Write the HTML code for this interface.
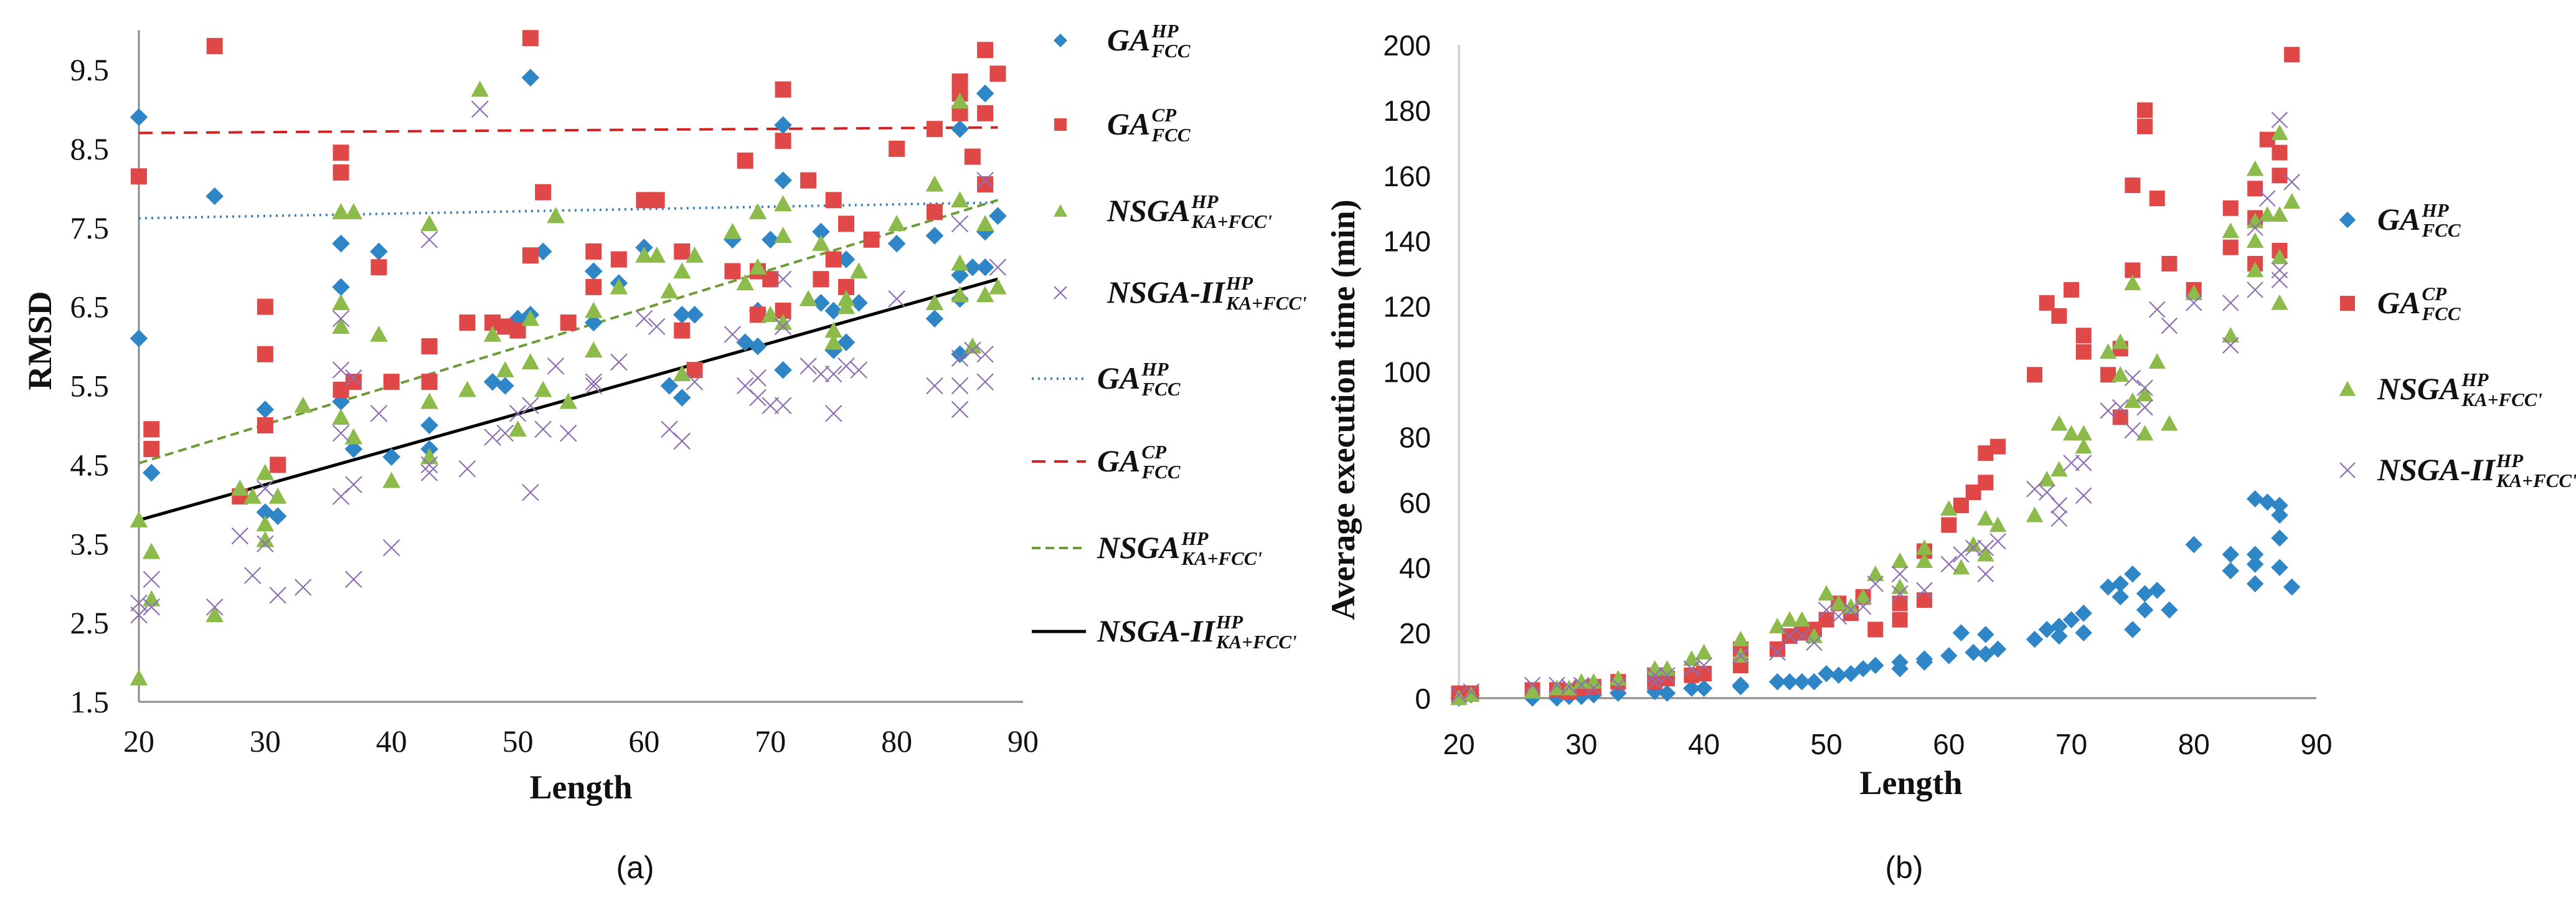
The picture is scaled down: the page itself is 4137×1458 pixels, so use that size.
<!DOCTYPE html>
<html><head><meta charset="utf-8">
<style>
html,body{margin:0;padding:0;background:#fff;}
svg{display:block;}
</style></head>
<body>
<svg id="fig" width="4137" height="1458" viewBox="0 0 4137 1458" xmlns="http://www.w3.org/2000/svg">
<rect width="4137" height="1458" fill="#fff"/>
<g id="pa"></g>
<g id="pb"></g>
</svg>
<script>
// ---------- Panel A data (RMSD) ----------
const aGaHpX=[20,20,21,26,30,30,31,36,36,36,37,39,40,43,43,48,49,50,51,51,52,56,56,58,60,62,63,63,64,67,68,69,69,70,71,71,71,74,74,75,75,76,76,77,80,83,83,85,85,85,85,86,87,87,87,88];
const aGaHpY=[8.9,6.1,4.4,7.9,5.2,3.9,3.85,7.3,6.75,5.3,4.7,7.2,4.6,5.0,4.7,5.55,5.5,6.35,6.4,9.4,7.2,6.95,6.3,6.8,7.25,5.5,5.35,6.4,6.4,7.35,6.05,6.0,6.45,7.35,8.8,8.1,5.7,7.45,6.55,6.45,5.95,7.1,6.05,6.55,7.3,7.4,6.35,8.75,6.9,6.6,5.9,7.0,9.2,7.45,7.0,7.65];
const aGaCpX=[20,21,21,26,30,30,30,31,28,36,36,36,37,39,40,43,43,46,48,49,50,51,51,52,54,56,56,58,60,61,63,63,64,67,68,69,69,70,71,71,71,73,74,75,75,76,76,78,80,83,83,85,85,85,86,87,87,87,88];
const aGaCpY=[8.15,4.95,4.7,9.8,6.5,5.9,5.0,4.5,4.1,8.45,8.2,5.45,5.55,7.0,5.55,6.0,5.55,6.3,6.3,6.25,6.2,9.9,7.15,7.95,6.3,7.2,6.75,7.1,7.85,7.85,7.2,6.2,5.7,6.95,8.35,6.95,6.4,6.85,9.25,8.6,6.45,8.1,6.85,7.85,7.1,7.55,6.75,7.35,8.5,8.75,7.7,9.35,9.2,8.95,8.4,9.75,8.95,8.05,9.45];
const aNsgaX=[20,20,21,21,26,28,29,30,30,30,31,33,36,36,36,36,37,37,39,40,43,43,43,46,47,48,49,50,51,51,52,53,54,56,56,58,60,61,62,63,63,64,67,68,69,69,70,71,71,71,73,74,75,75,76,76,77,80,83,83,85,85,85,85,86,87,87,88];
const aNsgaY=[1.8,3.8,3.4,2.8,2.6,4.2,4.1,4.4,3.75,3.55,4.1,5.25,7.7,6.55,6.25,5.1,7.7,4.85,6.15,4.3,7.55,5.3,4.6,5.45,9.25,6.15,5.7,4.95,5.8,6.35,5.45,7.65,5.3,6.45,5.95,6.75,7.15,7.15,6.7,6.95,5.65,7.15,7.45,6.8,7.7,7.0,6.4,7.8,7.4,6.3,6.6,7.3,6.2,6.05,6.6,6.5,6.95,7.55,8.05,6.55,9.1,7.85,7.05,6.65,6.0,7.55,6.65,6.75];
const aNsga2X=[20,20,21,21,26,28,29,30,30,31,33,36,36,36,36,37,37,37,39,40,43,43,43,46,47,48,49,50,51,51,52,53,54,56,56,58,60,61,62,63,64,67,68,69,69,70,71,71,71,73,74,75,75,76,77,80,83,85,85,85,85,86,87,87,88,87];
const aNsga2Y=[2.75,2.6,3.05,2.7,2.7,3.6,3.1,4.2,3.5,2.85,2.95,6.35,5.7,4.9,4.1,5.6,4.25,3.05,5.15,3.45,7.35,4.5,4.4,4.45,9.0,4.85,4.9,5.15,5.25,4.15,4.95,5.75,4.9,5.55,5.5,5.8,6.35,6.25,4.95,4.8,5.55,6.15,5.5,5.6,5.35,5.25,6.85,6.25,5.25,5.75,5.65,5.65,5.15,5.75,5.7,6.6,5.5,7.55,5.85,5.5,5.2,5.95,5.9,5.55,7.0,8.1];
// trend line endpoints [x0,x1] and values [y0,y1]
const aTrendX=[20,88];
const aTrendGaHp=[7.62,7.82];
const aTrendGaCp=[8.7,8.77];
const aTrendNsga=[4.52,7.85];
const aTrendNsga2=[3.8,6.85];
const aXTicks=[20,30,40,50,60,70,80,90];
const aYTicks=["1.5","2.5","3.5","4.5","5.5","6.5","7.5","8.5","9.5"];

// ---------- Panel B data (time) ----------
const bGaHpX=[20,21,26,28,29,30,31,33,36,37,39,40,43,43,46,47,48,49,50,51,52,53,54,56,56,58,58,60,61,62,63,63,64,67,68,69,69,70,71,71,73,74,74,75,75,76,76,77,78,80,83,83,85,85,85,85,86,87,87,87,87,88];
const bGaHpY=[0,1,0,0,0.5,0.5,1,1.5,2,1.5,3,3,4,3.5,5,5,5,5,7.5,7,7.5,9,10,9,11,12,11,13,20,14,19.5,13.5,15,18,21,22,19,24,26,20,34,35,31,21,38,32,27,33,27,47,44,39,61,44,41,35,60,59,56,49,40,34];
const bGaCpX=[20,21,26,28,29,30,31,33,36,36,37,39,40,43,43,46,47,48,49,50,51,52,53,54,56,56,58,58,60,61,62,63,63,64,67,68,69,70,71,71,73,74,74,75,75,76,76,77,78,80,83,83,85,85,85,86,87,87,87,88];
const bGaCpY=[1.5,1.5,2.5,2.5,2,3,3.5,5,5,7,6,7,7.5,10,15,15,19,20,21,24,29,26,31,21,24,29,30,45,53,59,63,66,75,77,99,121,117,125,111,106,99,86,107,131,157,175,180,153,133,125,150,138,156,147,133,171,167,160,137,197];
const bNsgaX=[20,21,26,28,29,30,31,33,36,37,39,40,43,43,46,47,48,49,50,51,52,53,54,56,56,58,58,60,61,62,63,63,64,67,68,69,69,70,71,71,73,74,74,75,75,76,76,77,78,80,83,83,85,85,85,85,86,87,87,87,87,88];
const bNsgaY=[0,1,2,3,3,5,5,6,9,9,12,14,18,13,22,24,24,19,32,29,28,31,38,42,34,46,42,58,40,47,55,44,53,56,67,70,84,81,81,77,106,109,99,91,127,81,93,103,84,124,143,111,162,146,140,131,148,173,148,135,121,152];
const bNsga2X=[20,21,26,28,29,30,31,33,36,36,37,39,40,43,46,47,48,49,50,51,52,53,54,56,56,58,60,61,62,63,63,64,67,68,69,69,70,71,71,73,74,75,75,76,76,77,78,80,83,83,85,85,86,87,87,87,88];
const bNsga2Y=[1,2,4,4,3.5,4,3,4,7,5,7,9,10,13,14,19,19,17,27,25,27,28,35,38,32,33,41,44,46,38,46,48,64,63,59,55,72,72,62,88,89,98,82,95,89,119,114,121,121,108,144,125,153,177,131,128,158];
const bXTicks=[20,30,40,50,60,70,80,90];
const bYTicks=[0,20,40,60,80,100,120,140,160,180,200];

const NS="http://www.w3.org/2000/svg";
const C={blue:"#2F86C6",red:"#E04747",green:"#8DBB4B",purple:"#8E70B2",axis:"#8a8a8a"};
function mk(tag,attrs,parent){const e=document.createElementNS(NS,tag);for(const k in attrs)e.setAttribute(k,attrs[k]);parent.appendChild(e);return e;}

function marker(g,type,cx,cy,s){
  let e;
  if(type==="diamond"){e=mk("polygon",{points:`${cx},${cy-s*0.55} ${cx+s*0.55},${cy} ${cx},${cy+s*0.55} ${cx-s*0.55},${cy}`,fill:C.blue},g);}
  else if(type==="square"){e=mk("rect",{x:cx-s/2,y:cy-s/2,width:s,height:s,fill:C.red},g);}
  else if(type==="triangle"){e=mk("polygon",{points:`${cx},${cy-s*0.55} ${cx+s*0.55},${cy+s*0.45} ${cx-s*0.55},${cy+s*0.45}`,fill:C.green},g);}
  else {const h=s*0.5;e=mk("path",{d:`M${cx-h},${cy-h}L${cx+h},${cy+h}M${cx+h},${cy-h}L${cx-h},${cy+h}`,stroke:C.purple,"stroke-width":2.2,fill:"none"},g);}
  return e;
}

function legendLabel(g,x,y,main,sup,sub,fs){
  const t=mk("text",{x:x,y:y,"font-family":"Liberation Serif, serif","font-weight":"bold","font-style":"italic","font-size":fs,fill:"#111"},g);
  t.textContent=main;
  const w=t.getComputedTextLength();
  const s1=mk("text",{x:x+w+2,y:y-fs*0.42,"font-family":"Liberation Serif, serif","font-weight":"bold","font-style":"italic","font-size":fs*0.62,fill:"#111"},g);
  s1.textContent=sup;
  const s2=mk("text",{x:x+w+2,y:y+fs*0.22,"font-family":"Liberation Serif, serif","font-weight":"bold","font-style":"italic","font-size":fs*0.62,fill:"#111"},g);
  s2.textContent=sub;
}

// ---------- Panel A ----------
(function(){
  const g=document.getElementById("pa");
  const X0=223,X1=1643,Y0=1127,YT=112; // y=1.5 at Y0, y=9.5 at YT
  const sx=v=>X0+(v-20)/70*(X1-X0);
  const sy=v=>Y0-(v-1.5)/8*(Y0-YT);
  const ax=mk("g",{},g);
  
  
  mk("line",{x1:X0,y1:sy(10),x2:X0,y2:Y0,stroke:C.axis,"stroke-width":3},ax);
  mk("line",{x1:X0,y1:Y0,x2:X1,y2:Y0,stroke:C.axis,"stroke-width":3},ax);
  aXTicks.forEach(v=>{const t=mk("text",{x:sx(v),y:1207,"text-anchor":"middle","font-family":"Liberation Serif, serif","font-size":50,fill:"#111"},ax);t.textContent=v;
    
    });
  aYTicks.forEach(v=>{const t=mk("text",{x:175,y:sy(parseFloat(v))+17,"text-anchor":"end","font-family":"Liberation Serif, serif","font-size":50,fill:"#111"},ax);t.textContent=v;
    
    });
  const xt=mk("text",{x:933,y:1282,"text-anchor":"middle","font-family":"Liberation Serif, serif","font-weight":"bold","font-size":54,fill:"#111"},g);
  xt.textContent="Length";
  
  
  const yt=mk("text",{x:0,y:0,transform:"translate(82,547) rotate(-90)","text-anchor":"middle","font-family":"Liberation Serif, serif","font-weight":"bold","font-size":54,fill:"#111"},g);
  yt.textContent="RMSD";
  
  
  // trend lines
  const tl=[[aTrendGaHp,C.blue,"3,7",4,"trend-ga-hp"],[aTrendGaCp,"#D42020","22,14",4,"trend-ga-cp"],[aTrendNsga,"#6E9A3A","14,8",4,"trend-nsga"],[aTrendNsga2,"#000","",5,"trend-nsga2"]];
  tl.forEach(d=>{const l=mk("line",{x1:sx(aTrendX[0]),y1:sy(d[0][0]),x2:sx(aTrendX[1]),y2:sy(d[0][1]),stroke:d[1],"stroke-width":d[3],"stroke-dasharray":d[2]},g);
    
    });
  const series=[[aGaHpX,aGaHpY,"diamond","ga-hp-point"],[aGaCpX,aGaCpY,"square","ga-cp-point"],[aNsgaX,aNsgaY,"triangle","nsga-point"],[aNsga2X,aNsga2Y,"x","nsga2-point"]];
  series.forEach(s=>{const sg=mk("g",{},g);
    
    
    s[0].forEach((x,i)=>{const m=marker(sg,s[2],sx(x),sy(s[1][i]),26);
      
      });});
  // legend
  const lg=mk("g",{},g);
  
  
  const items=[["diamond",65,"GA","HP","FCC"],["square",200,"GA","CP","FCC"],["triangle",339,"NSGA","HP","KA+FCC'"],["x",470,"NSGA-II","HP","KA+FCC'"]];
  items.forEach(it=>{marker(lg,it[0],1703,it[1],20);legendLabel(lg,1778,it[1]+16,it[2],it[3],it[4],50);});
  const lines=[[608,C.blue,"3,7",4,"GA","HP","FCC"],[741,"#D42020","22,14",4,"GA","CP","FCC"],[880,"#6E9A3A","14,8",4,"NSGA","HP","KA+FCC'"],[1014,"#000","",5,"NSGA-II","HP","KA+FCC'"]];
  lines.forEach(it=>{mk("line",{x1:1657,y1:it[0],x2:1744,y2:it[0],stroke:it[1],"stroke-width":it[3],"stroke-dasharray":it[2]},lg);legendLabel(lg,1762,it[0]+16,it[4],it[5],it[6],50);});
  const lab=mk("text",{x:1020,y:1410,"text-anchor":"middle","font-family":"Liberation Sans, sans-serif","font-size":50,fill:"#111"},g);
  lab.textContent="(a)";
  
  
})();

// ---------- Panel B ----------
(function(){
  const g=document.getElementById("pb");
  const X0=2343,X1=3720,Y0=1121,YT=72;
  const sx=v=>X0+(v-20)/70*(X1-X0);
  const sy=v=>Y0-v/200*(Y0-YT);
  const ax=mk("g",{},g);
  
  
  mk("line",{x1:X0,y1:YT,x2:X0,y2:Y0,stroke:"#c8c8c8","stroke-width":3},ax);
  mk("line",{x1:X0,y1:Y0,x2:X1,y2:Y0,stroke:C.axis,"stroke-width":3},ax);
  bXTicks.forEach(v=>{const t=mk("text",{x:sx(v),y:1211,"text-anchor":"middle","font-family":"Liberation Sans, sans-serif","font-size":46,fill:"#111"},ax);t.textContent=v;
    
    });
  bYTicks.forEach(v=>{const t=mk("text",{x:2298,y:sy(v)+17,"text-anchor":"end","font-family":"Liberation Sans, sans-serif","font-size":46,fill:"#111"},ax);t.textContent=v;
    
    });
  const xt=mk("text",{x:3069,y:1275,"text-anchor":"middle","font-family":"Liberation Serif, serif","font-weight":"bold","font-size":54,fill:"#111"},g);
  xt.textContent="Length";
  
  
  const yt=mk("text",{x:0,y:0,transform:"translate(2175,658) rotate(-90)","text-anchor":"middle","font-family":"Liberation Serif, serif","font-weight":"bold","font-size":54,fill:"#111"},g);
  yt.textContent="Average execution time (min)";
  
  
  const series=[[bGaHpX,bGaHpY,"diamond","ga-hp-point"],[bGaCpX,bGaCpY,"square","ga-cp-point"],[bNsgaX,bNsgaY,"triangle","nsga-point"],[bNsga2X,bNsga2Y,"x","nsga2-point"]];
  series.forEach(s=>{const sg=mk("g",{},g);
    
    
    s[0].forEach((x,i)=>{const m=marker(sg,s[2],sx(x),sy(s[1][i]),25);
      
      });});
  const lg=mk("g",{},g);
  
  
  const items=[["diamond",353,"GA","HP","FCC"],["square",487,"GA","CP","FCC"],["triangle",625,"NSGA","HP","KA+FCC'"],["x",755,"NSGA-II","HP","KA+FCC'"]];
  items.forEach(it=>{marker(lg,it[0],3770,it[1],24);legendLabel(lg,3818,it[1]+16,it[2],it[3],it[4],50);});
  const lab=mk("text",{x:3058,y:1410,"text-anchor":"middle","font-family":"Liberation Sans, sans-serif","font-size":50,fill:"#111"},g);
  lab.textContent="(b)";
  
  
})();
</script>
</body></html>
